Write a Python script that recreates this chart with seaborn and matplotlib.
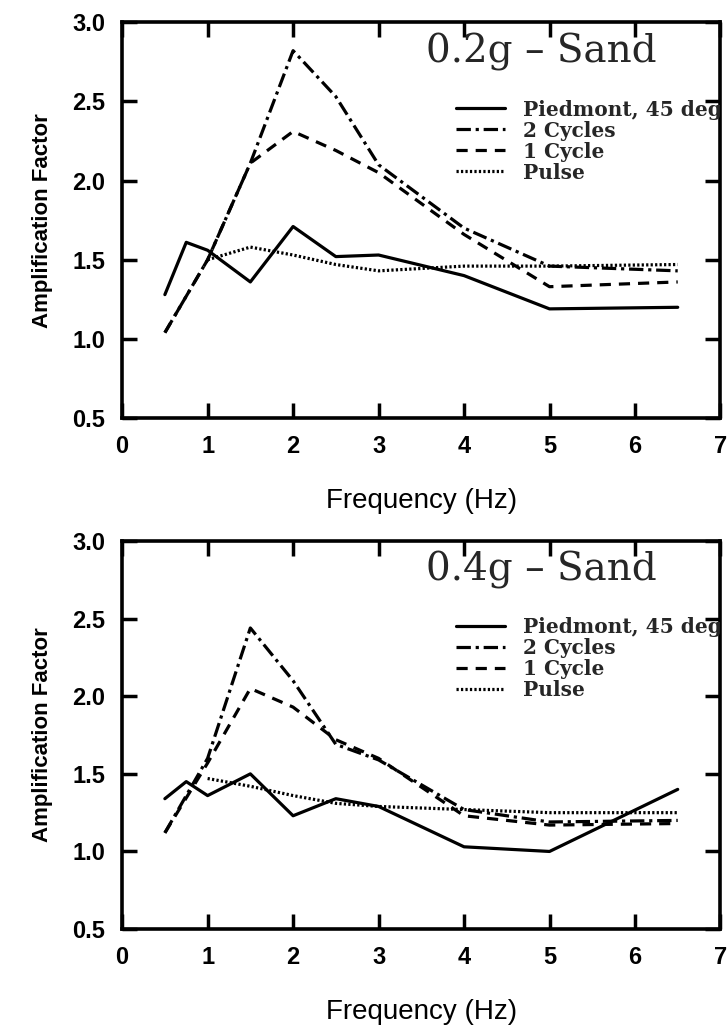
import numpy as np
import pandas as pd
import matplotlib
matplotlib.use("Agg")
import matplotlib.pyplot as plt
import seaborn as sns

# frequencies (Hz)
freq = [0.5, 0.75, 1.0, 1.5, 2.0, 2.5, 3.0, 4.0, 5.0, 6.5]
freq_main = [0.5, 1.0, 1.5, 2.0, 2.5, 3.0, 4.0, 5.0, 6.5]
freq_pulse = [1.0, 1.5, 2.0, 2.5, 3.0, 4.0, 5.0, 6.5]

# 0.2g - Sand
piedmont_02 = [1.28, 1.61, 1.56, 1.36, 1.71, 1.52, 1.53, 1.40, 1.19, 1.20]
cyc2_02 = [1.04, 1.50, 2.11, 2.82, 2.53, 2.10, 1.70, 1.46, 1.43]
cyc1_02 = [1.04, 1.50, 2.11, 2.31, 2.19, 2.05, 1.66, 1.33, 1.36]
pulse_02 = [1.50, 1.58, 1.53, 1.47, 1.43, 1.46, 1.46, 1.47]

# 0.4g - Sand
piedmont_04 = [1.34, 1.45, 1.36, 1.50, 1.23, 1.34, 1.29, 1.03, 1.00, 1.40]
cyc2_04 = [1.12, 1.60, 2.44, 2.10, 1.69, 1.59, 1.27, 1.19, 1.20]
cyc1_04 = [1.12, 1.57, 2.05, 1.93, 1.72, 1.60, 1.23, 1.17, 1.18]
pulse_04 = [1.47, 1.42, 1.36, 1.31, 1.29, 1.27, 1.25, 1.25]

labels = ["Piedmont, 45 deg", "2 Cycles", "1 Cycle", "Pulse"]
titles = ["0.2g \u2013 Sand", "0.4g \u2013 Sand"]

sns.set_style("ticks")
plt.rcParams["font.family"] = ["Liberation Sans", "DejaVu Sans"]

fig = plt.figure(figsize=(7.27, 10.3), dpi=100)
ax_top = fig.add_axes([0.168, 0.594, 0.823, 0.3845])
ax_bot = fig.add_axes([0.168, 0.098, 0.823, 0.3767])

styles = [
    dict(linestyle="-"),
    dict(dashes=(4.5, 1.5, 1, 1.5)),
    dict(dashes=(3.5, 2.5)),
    dict(dashes=(0.7, 0.7)),
]

panels = [
    (ax_top, titles[0], [piedmont_02, cyc2_02, cyc1_02, pulse_02]),
    (ax_bot, titles[1], [piedmont_04, cyc2_04, cyc1_04, pulse_04]),
]

for ax, title, series in panels:
    xs = [freq, freq_main, freq_main, freq_pulse]
    for x, y, lab, st in zip(xs, series, labels, styles):
        df = pd.DataFrame({"freq": x, "amp": y})
        sns.lineplot(data=df, x="freq", y="amp", ax=ax, color="black",
                     linewidth=2.3, label=lab, **st)

    ax.set_xlim(0, 7)
    ax.set_ylim(0.5, 3.0)
    ax.set_xticks(range(0, 8))
    ax.set_yticks([0.5, 1.0, 1.5, 2.0, 2.5, 3.0])
    ax.set_yticklabels(["0.5", "1.0", "1.5", "2.0", "2.5", "3.0"])
    ax.tick_params(direction="in", length=11, width=2.5, top=True, right=True,
                   labelsize=17, pad=12, colors="black")
    for t in ax.get_xticklabels() + ax.get_yticklabels():
        t.set_fontweight("bold")
    for s in ax.spines.values():
        s.set_linewidth(2.6)
        s.set_color("black")
        s.set_visible(True)

    ax.set_xlabel("Frequency (Hz)", fontsize=20, labelpad=22, color="black")
    ax.set_ylabel("Amplification Factor", fontsize=16, fontweight="bold",
                  labelpad=14, color="black")

    ax.text(0.70, 0.925, title, transform=ax.transAxes, ha="center", va="center",
            fontsize=28, family=["DejaVu Serif"])

    leg = ax.legend(loc="upper left", bbox_to_anchor=(0.545, 0.825), frameon=False,
                    handlelength=2.4, handletextpad=0.9, labelspacing=0.05,
                    borderaxespad=0.0,
                    prop={"family": "DejaVu Serif", "weight": "bold", "size": 14.5})
    for t in leg.get_texts():
        t.set_clip_box(ax.bbox)
        t.set_clip_on(True)

fig.savefig("out.png", dpi=100, facecolor="white")
